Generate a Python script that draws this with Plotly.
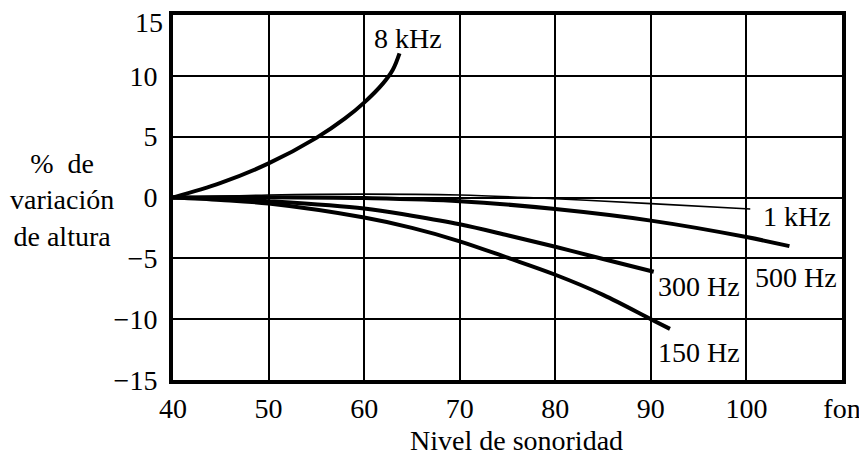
import plotly.graph_objects as go

# Data
x_8k = [40, 45, 50, 55, 58, 60, 62, 63, 63.7]
y_8k = [0, 1.2, 2.8, 4.9, 6.5, 7.8, 9.4, 10.5, 11.85]

x_1k = [40, 50, 60, 70, 80, 90, 100.4]
y_1k = [0, 0.2, 0.28, 0.2, -0.1, -0.5, -0.95]

x_500 = [40, 50, 60, 70, 80, 90, 100, 104.5]
y_500 = [0, 0.03, -0.05, -0.3, -0.95, -1.9, -3.25, -4.0]

x_300 = [40, 45, 50, 60, 65, 70, 75, 80, 85, 90.3]
y_300 = [0, -0.1, -0.3, -0.9, -1.5, -2.2, -3.1, -4.05, -5.05, -6.1]

x_150 = [40, 45, 50, 60, 65, 70, 75, 80, 85, 90, 92]
y_150 = [0, -0.2, -0.5, -1.65, -2.5, -3.6, -4.95, -6.35, -8.0, -10.0, -10.8]

x_ticks = [40, 50, 60, 70, 80, 90, 100, 110]
x_ticktext = ["40", "50", "60", "70", "80", "90", "100", "fon"]
y_ticks = [15, 10, 5, 0, -5, -10, -15]
y_ticktext = ["15", "10", "5", "0", "−5", "−10", "−15"]

labels = [("8 kHz", 64.6, 13.1), ("1 kHz", 105.3, -1.6), ("500 Hz", 105.2, -6.6),
          ("300 Hz", 95.0, -7.35), ("150 Hz", 95.0, -12.7)]

FONT = "Liberation Serif, Times New Roman, serif"
TICKFONT = dict(family=FONT, size=28, color="black")

fig = go.Figure()
series = [(x_8k, y_8k, 4), (x_1k, y_1k, 1.6), (x_500, y_500, 4), (x_300, y_300, 4), (x_150, y_150, 4)]
for xs, ys, w in series:
    fig.add_trace(go.Scatter(x=xs, y=ys, mode="lines",
                             line=dict(color="black", width=w, shape="spline", smoothing=1.0),
                             showlegend=False, hoverinfo="skip", cliponaxis=False))

for text, x, y in labels:
    fig.add_annotation(x=x, y=y, text=text, showarrow=False, xref="x", yref="y",
                       xanchor="center", yanchor="middle",
                       font=dict(family=FONT, size=28, color="black"))

# top y tick label drawn slightly below the frame edge, as in the reference
fig.add_annotation(x=0, y=y_ticks[0], xref="paper", yref="y", text=y_ticktext[0],
                   showarrow=False, xanchor="right", yanchor="middle", xshift=-8, yshift=-7,
                   font=TICKFONT)

fig.add_annotation(x=-0.166, y=0.493, xref="paper", yref="paper",
                   xanchor="center", yanchor="middle",
                   text="%  de<br>variación<br>de altura", showarrow=False,
                   font=dict(family=FONT, size=28, color="black"), align="center")
fig.add_annotation(x=0.514, y=-0.167, xref="paper", yref="paper",
                   xanchor="center", yanchor="middle",
                   text="Nivel de sonoridad", showarrow=False,
                   font=dict(family=FONT, size=28, color="black"))

fig.update_layout(
    width=859, height=447,
    margin=dict(l=165, r=25, t=7, b=75),
    paper_bgcolor="white", plot_bgcolor="white",
    font=dict(family=FONT, size=28, color="black"),
    xaxis=dict(range=[40, 110], tickvals=x_ticks, ticktext=x_ticktext, tickfont=TICKFONT,
               showgrid=True, gridcolor="black", gridwidth=2,
               showline=True, linecolor="black", linewidth=4, mirror=True,
               ticks="", zeroline=False, automargin=False, ticklabelstandoff=0),
    yaxis=dict(range=[-15, 15], tickvals=y_ticks[1:], ticktext=y_ticktext[1:], tickfont=TICKFONT,
               showgrid=True, gridcolor="black", gridwidth=2,
               showline=True, linecolor="black", linewidth=4, mirror=True,
               ticks="", zeroline=False, automargin=False, ticklabelstandoff=6),
)

fig.write_html("out.html")
